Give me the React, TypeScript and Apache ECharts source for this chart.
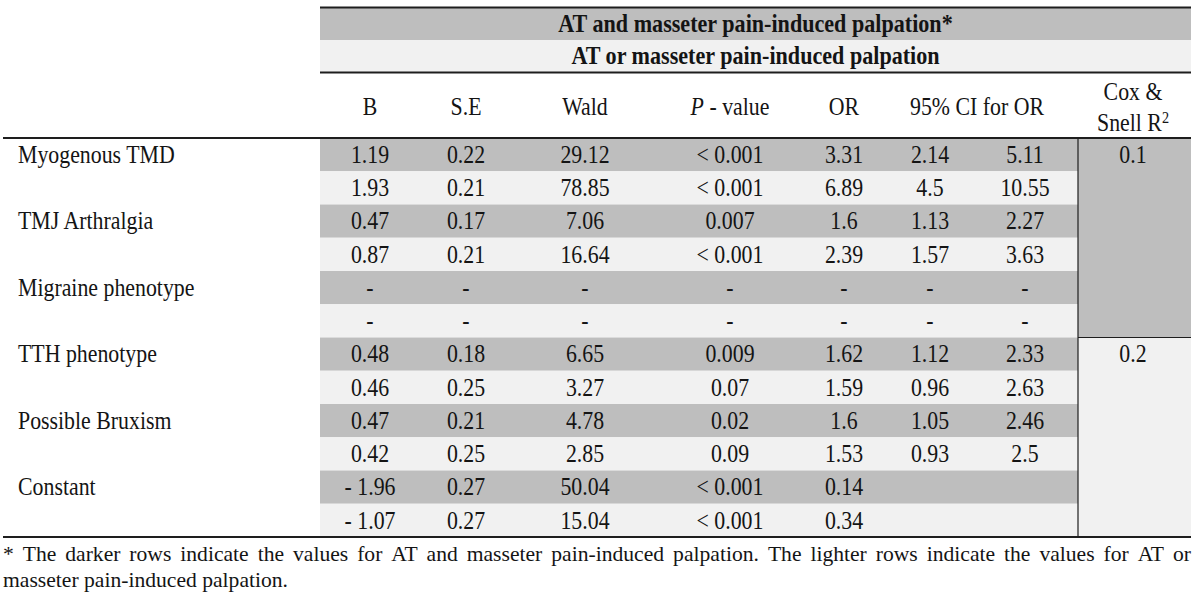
import React, { useEffect, useRef } from "react";
import * as echarts from "echarts";

// ---------- content ----------
const titleMain = "AT and masseter pain-induced palpation*";
const titleSub = "AT or masseter pain-induced palpation";
const columnHeaders = ["B", "S.E", "Wald", "P - value", "OR", "95% CI for OR"];
const coxHeaderTop = "Cox &";
const coxHeaderBottom = "Snell R";
const rowLabels = [
  "Myogenous TMD",
  "TMJ Arthralgia",
  "Migraine phenotype",
  "TTH phenotype",
  "Possible Bruxism",
  "Constant",
];
// 12 rows: dark row (AT and masseter) then light row (AT or masseter) for each variable
const bValues = ["1.19", "1.93", "0.47", "0.87", "-", "-", "0.48", "0.46", "0.47", "0.42", "- 1.96", "- 1.07"];
const seValues = ["0.22", "0.21", "0.17", "0.21", "-", "-", "0.18", "0.25", "0.21", "0.25", "0.27", "0.27"];
const waldValues = ["29.12", "78.85", "7.06", "16.64", "-", "-", "6.65", "3.27", "4.78", "2.85", "50.04", "15.04"];
const pValues = ["< 0.001", "< 0.001", "0.007", "< 0.001", "-", "-", "0.009", "0.07", "0.02", "0.09", "< 0.001", "< 0.001"];
const orValues = ["3.31", "6.89", "1.6", "2.39", "-", "-", "1.62", "1.59", "1.6", "1.53", "0.14", "0.34"];
const ciLower = ["2.14", "4.5", "1.13", "1.57", "-", "-", "1.12", "0.96", "1.05", "0.93", "", ""];
const ciUpper = ["5.11", "10.55", "2.27", "3.63", "-", "-", "2.33", "2.63", "2.46", "2.5", "", ""];
const coxValues = ["0.1", "0.2"];
const coxRowSpans = [[0, 5], [6, 11]];
const footLine1 =
  "* The darker rows indicate the values for AT and masseter pain-induced palpation. The lighter rows indicate the values for AT or";
const footLine2 = "masseter pain-induced palpation.";

// ---------- layout ----------
const W = 1200;
const H = 615;
const TABLE_L = 3;
const TABLE_R = 1191;
const SHADE_L = 320;
const DIV_X = 1078;
const ROW_TOP = 138;
const ROW_BOTTOM = 537;
const ROW_H = (ROW_BOTTOM - ROW_TOP) / 12;
const COL_X = [370, 466, 585, 730, 844, 930, 1025];
const CI_HEADER_X = 977;
const COX_X = 1133;
const DARK = "#bebebe";
const LIGHT = "#f1f1f1";
const INK = "#141414";
const FONT = "'Liberation Serif', 'Times New Roman', serif";
const FS = 26;
const SX = 0.84;
const FOOT_FS = 21;
const FOOT_SX = 1.03;

function txt(text: string, x: number, y: number, align: string, extra: any = {}) {
  return {
    type: "text",
    x,
    y,
    scaleX: extra.scaleX ?? SX,
    z: 50,
    style: {
      text,
      x: 0,
      y: 0,
      fill: INK,
      fontFamily: FONT,
      fontSize: extra.fontSize ?? FS,
      fontWeight: extra.fontWeight ?? "normal",
      fontStyle: extra.fontStyle ?? "normal",
      align,
      textAlign: align,
      verticalAlign: "middle",
      textVerticalAlign: "middle",
      rich: extra.rich,
    },
  };
}

function measure(text: string, font: string) {
  const ctx = document.createElement("canvas").getContext("2d");
  if (!ctx) return text.length * 9;
  ctx.font = font;
  return ctx.measureText(text).width;
}

export default function App() {
  const ref = useRef<HTMLDivElement>(null);

  useEffect(() => {
    document.body.style.margin = "0";
    if (!ref.current) return;
    const chart = echarts.init(ref.current, undefined, { renderer: "svg" });

    const columns = [bValues, seValues, waldValues, pValues, orValues, ciLower, ciUpper];

    // justified footnote line 1
    const footFont = `${FOOT_FS}px ${FONT}`;
    const words = footLine1.split(" ");
    const widths = words.map((w) => measure(w, footFont) * FOOT_SX);
    const total = widths.reduce((a, b) => a + b, 0);
    const gap = (TABLE_R - TABLE_L - total) / (words.length - 1);
    const footWords: any[] = [];
    let cx = TABLE_L;
    words.forEach((w, k) => {
      footWords.push(txt(w, cx, 554, "left", { fontSize: FOOT_FS, scaleX: FOOT_SX }));
      cx += widths[k] + gap;
    });

    const line = (x1: number, y1: number, x2: number, y2: number, w: number) => ({
      type: "line",
      z: 60,
      shape: { x1, y1, x2, y2 },
      style: { stroke: "#1e1e1e", lineWidth: w },
    });

    const option: any = {
      animation: false,
      backgroundColor: "#ffffff",
      grid: { left: 0, right: 0, top: 0, bottom: 0 },
      xAxis: { type: "value", min: 0, max: W, show: false },
      yAxis: { type: "value", min: 0, max: H, inverse: true, show: false },
      graphic: [
        { type: "rect", z: 1, shape: { x: SHADE_L, y: 8, width: TABLE_R - SHADE_L, height: 32 }, style: { fill: DARK } },
        { type: "rect", z: 1, shape: { x: SHADE_L, y: 40, width: TABLE_R - SHADE_L, height: 32 }, style: { fill: LIGHT } },
        txt(titleMain, (SHADE_L + TABLE_R) / 2, 24, "center", { fontWeight: "bold", fontSize: 25, scaleX: 0.885 }),
        txt(titleSub, (SHADE_L + TABLE_R) / 2, 56, "center", { fontWeight: "bold", fontSize: 25, scaleX: 0.885 }),
        ...columnHeaders.map((h, c) => {
          if (c === 3) {
            return txt("{i|P} - value", COL_X[3], 106, "center", {
              rich: {
                i: { fontStyle: "italic", fontFamily: FONT, fontSize: FS, fill: INK },
              },
            });
          }
          if (c === 5) return txt(h, CI_HEADER_X, 106, "center");
          return txt(h, COL_X[c], 106, "center");
        }),
        txt(coxHeaderTop, COX_X, 91, "center"),
        txt(`${coxHeaderBottom}{s|2}`, COX_X, 122, "center", {
          rich: {
            s: { fontSize: 17, fontFamily: FONT, fill: INK, verticalAlign: "top", padding: [0, 0, 6, 0] },
          },
        }),
        line(SHADE_L, 7.5, TABLE_R, 7.5, 2),
        line(SHADE_L, 72.5, TABLE_R, 72.5, 2),
        line(TABLE_L, 138, TABLE_R, 138, 2),
        line(TABLE_L, 537, TABLE_R, 537, 2),
        line(DIV_X, 138, DIV_X, 537, 1.2),
        ...footWords,
        txt(footLine2, TABLE_L, 580, "left", { fontSize: FOOT_FS, scaleX: FOOT_SX }),
      ],
      series: [
        {
          type: "custom",
          name: "rows",
          coordinateSystem: "cartesian2d",
          data: bValues.map((_, i) => [i]),
          renderItem: (params: any, api: any) => {
            const i = params.dataIndex;
            const top = ROW_TOP + i * ROW_H;
            const p0 = api.coord([SHADE_L, top]);
            const p1 = api.coord([DIV_X, top + ROW_H]);
            const cy = top + ROW_H / 2 - 0.5;
            const children: any[] = [
              {
                type: "rect",
                shape: { x: p0[0], y: p0[1], width: p1[0] - p0[0], height: p1[1] - p0[1] },
                style: { fill: i % 2 === 0 ? DARK : LIGHT },
              },
            ];
            columns.forEach((col, c) => {
              const v = col[i];
              if (!v) return;
              const pt = api.coord([COL_X[c], cy]);
              children.push(txt(v, pt[0], pt[1], "center"));
            });
            if (i % 2 === 0) {
              const pt = api.coord([18, cy]);
              children.push(txt(rowLabels[i / 2], pt[0], pt[1], "left"));
            }
            return { type: "group", children };
          },
        },
        {
          type: "custom",
          name: "cox",
          coordinateSystem: "cartesian2d",
          data: coxValues.map((_, g) => [g]),
          renderItem: (params: any, api: any) => {
            const g = params.dataIndex;
            const [r0, r1] = coxRowSpans[g];
            const top = ROW_TOP + r0 * ROW_H;
            const bottom = ROW_TOP + (r1 + 1) * ROW_H;
            const p0 = api.coord([DIV_X, top]);
            const p1 = api.coord([TABLE_R, bottom]);
            const pt = api.coord([COX_X, top + ROW_H / 2 - 0.5]);
            const children: any[] = [
              {
                type: "rect",
                shape: { x: p0[0], y: p0[1], width: p1[0] - p0[0], height: p1[1] - p0[1] },
                style: { fill: g === 0 ? DARK : LIGHT },
              },
              txt(coxValues[g], pt[0], pt[1], "center"),
            ];
            if (g > 0) {
              children.push({
                type: "line",
                shape: { x1: p0[0], y1: p0[1], x2: p1[0], y2: p0[1] },
                style: { stroke: "#1e1e1e", lineWidth: 1.2 },
              });
            }
            return { type: "group", children };
          },
        },
      ],
    };

    chart.setOption(option);
    return () => chart.dispose();
  }, []);

  return <div ref={ref} style={{ width: W, height: H, display: "block" }} />;
}
